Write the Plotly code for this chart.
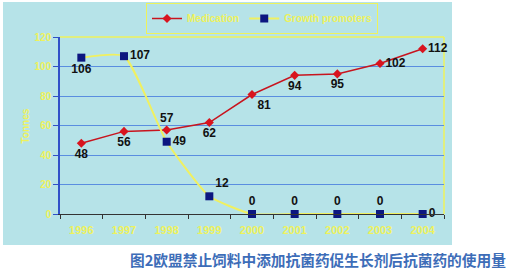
import plotly.graph_objects as go

years = ["1996", "1997", "1998", "1999", "2000", "2001", "2002", "2003", "2004"]
medication = [48, 56, 57, 62, 81, 94, 95, 102, 112]
growth = [106, 107, 49, 12, 0, 0, 0, 0, 0]
med_pos = ["bottom center", "bottom center", "top center", "bottom center", "bottom right",
           "bottom center", "bottom center", "middle right", "middle right"]
gro_pos = ["bottom center", "middle right", "middle right", "top right", "top center",
           "top center", "top center", "top center", "middle right"]
caption = "图2欧盟禁止饲料中添加抗菌药促生长剂后抗菌药的使用量"

W, H = 512, 270
L, R, T, B = 60, 68, 37, 56
pw, ph = W - L - R, H - T - B

def px(x):
    return (x - L) / pw

def py(y):
    return (H - B - y) / ph

YEL = "#eef25c"
fig = go.Figure()
fig.add_trace(go.Scatter(
    x=years, y=medication, name="Medication", mode="lines+markers+text",
    line=dict(color="#c8141e", width=1.5),
    marker=dict(symbol="diamond", size=7, color="#d8141e"),
    text=[str(v) for v in medication], textposition=med_pos,
    textfont=dict(family="Liberation Sans", size=12, color="#111111", weight="bold"),
    cliponaxis=False))
fig.add_trace(go.Scatter(
    x=years, y=growth, name="Growth promoters", mode="lines+markers+text",
    line=dict(color="#f0f060", width=2, shape="spline", smoothing=0.5),
    marker=dict(symbol="square", size=8, color="#0c1680"),
    text=[str(v) for v in growth], textposition=gro_pos,
    textfont=dict(family="Liberation Sans", size=12, color="#111111", weight="bold"),
    cliponaxis=False))

fig.update_layout(
    width=W, height=H, margin=dict(l=L, r=R, t=T, b=B, autoexpand=False),
    paper_bgcolor="white", plot_bgcolor="rgba(0,0,0,0)",
    showlegend=True,
    legend=dict(orientation="h", xref="container", yref="container",
                x=146 / W, y=1 - 3 / H, xanchor="left", yanchor="top",
                bgcolor="rgba(0,0,0,0)", bordercolor=YEL, borderwidth=1,
                font=dict(family="Liberation Sans", size=10, color=YEL, weight="bold"),
                itemwidth=30, tracegroupgap=0),
    xaxis=dict(type="category", range=[-0.5, 8.5], showgrid=False,
               tickson="boundaries", ticks="outside", ticklen=4, tickcolor="#333333",
               showline=True, linecolor="#333333", linewidth=1, ticklabelstandoff=6,
               tickfont=dict(family="Liberation Sans", size=11, color=YEL, weight="bold")),
    yaxis=dict(range=[0, 120], tickvals=[0, 20, 40, 60, 80, 100, 120],
               showgrid=True, gridcolor="#5a8ee0", gridwidth=1,
               ticks="outside", ticklen=5, tickcolor="#3050c8",
               showline=True, linecolor="#3050c8", linewidth=1.5, zeroline=False,
               tickfont=dict(family="Liberation Sans", size=10, color=YEL, weight="bold")),
    shapes=[
        dict(type="rect", xref="paper", yref="paper", x0=px(3), x1=px(452), y0=py(245), y1=py(2),
             fillcolor="#b6e3e8", line=dict(width=0), layer="below"),
        dict(type="line", xref="paper", yref="paper", x0=0, x1=1, y0=1, y1=1,
             line=dict(color=YEL, width=1.5), layer="below"),
        dict(type="line", xref="paper", yref="paper", x0=1, x1=1, y0=0, y1=1,
             line=dict(color=YEL, width=1.5), layer="below"),
    ],
    annotations=[
        dict(text="Tonnes", xref="paper", yref="paper", x=px(18), y=py(126), textangle=-90,
             showarrow=False, font=dict(family="Liberation Sans", size=10, color=YEL, weight="bold")),
        dict(text=caption, xref="paper", yref="paper", x=px(508), y=py(259), xanchor="right",
             yanchor="middle", showarrow=False,
             font=dict(family="Noto Sans CJK SC", size=14.7, color="#3d6db8", weight="bold")),
    ],
)
fig.write_html("out.html")
